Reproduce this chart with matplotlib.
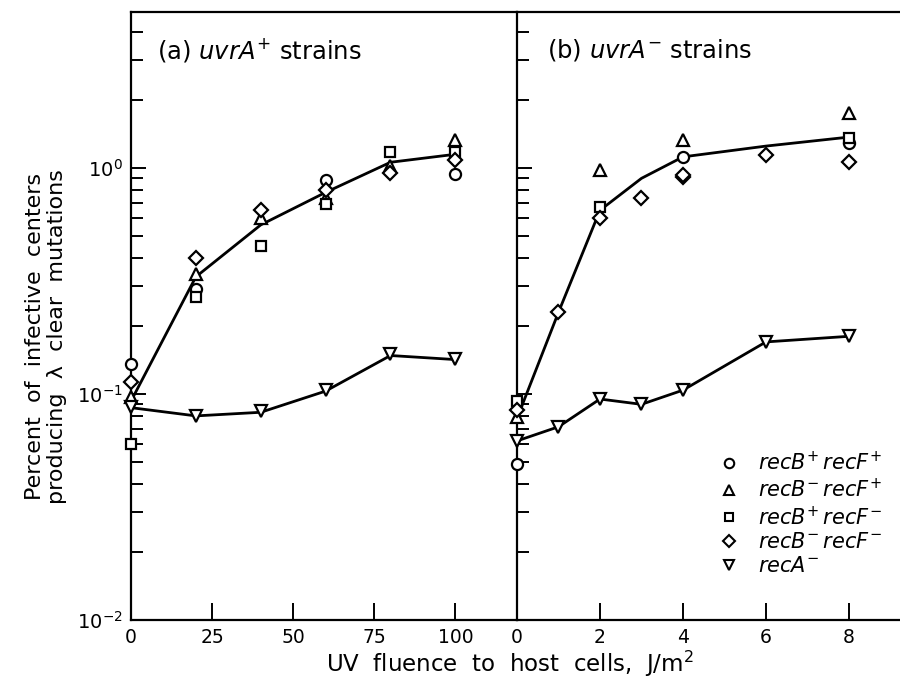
import matplotlib
matplotlib.use("Agg")
import matplotlib.pyplot as plt
from matplotlib.ticker import LogLocator, NullFormatter, FixedLocator

plt.rcParams["font.family"] = ["DejaVu Sans"]
plt.rcParams["mathtext.fontset"] = "dejavusans"

# ---------------------------------------------------------------------------
# data, panel (a): uvrA+ strains, UV fluence 0-100 J/m2
# ---------------------------------------------------------------------------
a_circle_x = [0, 20, 60, 100]
a_circle_y = [0.136, 0.29, 0.885, 0.94]
a_tri_x = [0, 20, 40, 60, 80, 100]
a_tri_y = [0.097, 0.34, 0.60, 0.74, 1.02, 1.33]
a_sq_x = [0, 20, 40, 60, 80, 100]
a_sq_y = [0.060, 0.27, 0.45, 0.69, 1.18, 1.18]
a_dia_x = [0, 20, 40, 60, 80, 100]
a_dia_y = [0.113, 0.40, 0.65, 0.80, 0.95, 1.08]
a_reca_x = [0, 20, 40, 60, 80, 100]
a_reca_y = [0.088, 0.080, 0.084, 0.104, 0.150, 0.143]

a_fit_x = [0, 20, 40, 60, 80, 100]
a_fit_y = [0.093, 0.33, 0.56, 0.78, 1.06, 1.15]
a_fitreca_x = [0, 20, 40, 60, 80, 100]
a_fitreca_y = [0.087, 0.080, 0.083, 0.103, 0.148, 0.142]

# ---------------------------------------------------------------------------
# data, panel (b): uvrA- strains, UV fluence 0-8 J/m2
# ---------------------------------------------------------------------------
b_circle_x = [0, 4, 8]
b_circle_y = [0.049, 1.12, 1.29]
b_tri_x = [0, 2, 4, 8]
b_tri_y = [0.079, 0.98, 1.33, 1.75]
b_sq_x = [0, 2, 8]
b_sq_y = [0.093, 0.67, 1.36]
b_dia_x = [0, 1, 2, 3, 4, 4, 6, 8]
b_dia_y = [0.085, 0.23, 0.60, 0.74, 0.91, 0.93, 1.14, 1.06]
b_reca_x = [0, 1, 2, 3, 4, 6, 8]
b_reca_y = [0.062, 0.0716, 0.095, 0.090, 0.104, 0.17, 0.18]

b_fit_x = [0, 1, 2, 3, 4, 6, 8]
b_fit_y = [0.078, 0.23, 0.65, 0.90, 1.12, 1.25, 1.37]
b_fitreca_x = [0, 1, 2, 3, 4, 6, 8]
b_fitreca_y = [0.062, 0.0716, 0.095, 0.090, 0.104, 0.17, 0.18]

legend_labels = [
    r"$\mathit{recB}^{+}\,\mathit{recF}^{+}$",
    r"$\mathit{recB}^{-}\,\mathit{recF}^{+}$",
    r"$\mathit{recB}^{+}\,\mathit{recF}^{-}$",
    r"$\mathit{recB}^{-}\,\mathit{recF}^{-}$",
    r"$\mathit{recA}^{-}$",
]

MARKERS = ["o", "^", "s", "D", "v"]
MSIZE = [8, 8.5, 7, 7.5, 8.5]
LW = 2.0
TICK_FS = 13.5


def style_axis(ax, xticks, xlim, show_ylabels):
    ax.set_yscale("log")
    ax.set_ylim(0.01, 4.9)
    ax.set_xlim(*xlim)
    ax.xaxis.set_major_locator(FixedLocator(xticks))
    ax.yaxis.set_major_locator(LogLocator(base=10, numticks=10))
    ax.yaxis.set_minor_locator(LogLocator(base=10, subs=range(2, 10), numticks=20))
    ax.yaxis.set_minor_formatter(NullFormatter())
    if not show_ylabels:
        ax.yaxis.set_major_formatter(NullFormatter())
    ax.tick_params(axis="x", which="major", direction="in", length=12,
                   width=1.4, labelsize=TICK_FS, pad=6)
    ax.tick_params(axis="y", which="major", direction="in", length=11,
                   width=1.4, labelsize=14, pad=6)
    ax.tick_params(axis="y", which="minor", direction="in", length=8.5, width=1.4)
    ax.tick_params(axis="y", which="both", right=False)
    ax.tick_params(axis="x", which="both", top=False)
    for s in ax.spines.values():
        s.set_linewidth(1.6)


def draw_points(ax, xs, ys):
    for (x, y), m, ms in zip(zip(xs, ys), MARKERS, MSIZE):
        ax.plot(x, y, linestyle="none", marker=m, markersize=ms,
                markerfacecolor="white", markeredgecolor="black",
                markeredgewidth=1.6, clip_on=False, zorder=4)


fig = plt.figure(figsize=(9, 6.82), dpi=100)
ax_a = fig.add_axes([131 / 900, 1 - 620 / 682, (517 - 131) / 900, (620 - 12) / 682])
ax_b = fig.add_axes([517 / 900, 1 - 620 / 682, (900 - 517) / 900, (620 - 12) / 682])

style_axis(ax_a, [0, 25, 50, 75, 100], (0, 119), True)
style_axis(ax_b, [0, 2, 4, 6, 8], (0, 9.23), False)
ax_a.spines["right"].set_visible(False)
ax_b.spines["right"].set_visible(False)

ax_a.plot(a_fit_x, a_fit_y, color="black", lw=LW, zorder=3)
ax_a.plot(a_fitreca_x, a_fitreca_y, color="black", lw=LW, zorder=3)
draw_points(ax_a,
            [a_circle_x, a_tri_x, a_sq_x, a_dia_x, a_reca_x],
            [a_circle_y, a_tri_y, a_sq_y, a_dia_y, a_reca_y])

ax_b.plot(b_fit_x, b_fit_y, color="black", lw=LW, zorder=3)
ax_b.plot(b_fitreca_x, b_fitreca_y, color="black", lw=LW, zorder=3)
draw_points(ax_b,
            [b_circle_x, b_tri_x, b_sq_x, b_dia_x, b_reca_x],
            [b_circle_y, b_tri_y, b_sq_y, b_dia_y, b_reca_y])

# legend
handles = []
for m, ms in zip(MARKERS, MSIZE):
    h, = ax_b.plot([], [], linestyle="none", marker=m, markersize=ms * 0.85,
                   markerfacecolor="white", markeredgecolor="black",
                   markeredgewidth=1.5)
    handles.append(h)
ax_b.legend(handles, legend_labels, loc="lower left",
            bbox_to_anchor=(0.5, 0.055), frameon=False, fontsize=15,
            handlelength=1.0, handletextpad=0.9, labelspacing=0.18,
            borderpad=0.0)

ax_a.text(0.067, 0.9375, r"(a) $\mathit{uvrA}^{+}$ strains", transform=ax_a.transAxes,
          fontsize=17.5, ha="left", va="center")
ax_b.text(0.078, 0.9375, r"(b) $\mathit{uvrA}^{-}$ strains", transform=ax_b.transAxes,
          fontsize=17.5, ha="left", va="center")

fig.text(46 / 900, 0.506,
         "Percent  of  infective  centers\nproducing  \u03bb  clear  mutations",
         rotation=90, ha="center", va="center", fontsize=16, linespacing=1.1)
fig.text(510 / 900, 1 - 664 / 682,
         r"UV  fluence  to  host  cells,  J/m$^{2}$",
         ha="center", va="center", fontsize=16.5)

fig.savefig("out.png", dpi=100)
